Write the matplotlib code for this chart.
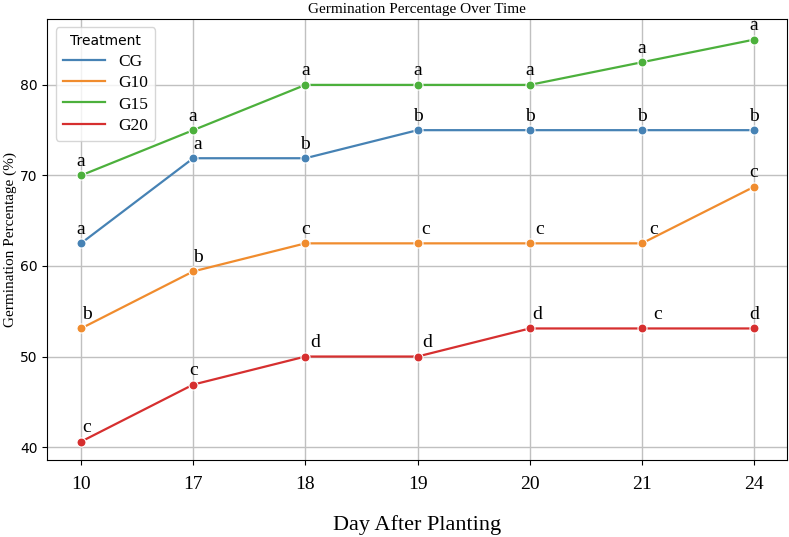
import numpy as np
import matplotlib
matplotlib.use("Agg")
import matplotlib.pyplot as plt
from matplotlib.lines import Line2D

# data
days = ["10", "17", "18", "19", "20", "21", "24"]
cg = [62.5, 71.9, 71.9, 75.0, 75.0, 75.0, 75.0]
g10 = [53.1, 59.4, 62.5, 62.5, 62.5, 62.5, 68.75]
g15 = [70.0, 75.0, 80.0, 80.0, 80.0, 82.5, 85.0]
g20 = [40.6, 46.9, 50.0, 50.0, 53.1, 53.1, 53.1]

cg_letters = ["a", "a", "b", "b", "b", "b", "b"]
g10_letters = ["b", "b", "c", "c", "c", "c", "c"]
g15_letters = ["a", "a", "a", "a", "a", "a", "a"]
g20_letters = ["c", "c", "d", "d", "d", "c", "d"]

series = [
    ("CG", cg, cg_letters, "#4682b4"),
    ("G10", g10, g10_letters, "#f08c2e"),
    ("G15", g15, g15_letters, "#4cb03c"),
    ("G20", g20, g20_letters, "#d62f2f"),
]

# small horizontal nudges of some letters (in x units)
nudge = {
    ("G10", 0): 0.05, ("G10", 1): 0.04, ("G10", 3): 0.07, ("G10", 4): 0.09, ("G10", 5): 0.1,
    ("G20", 0): 0.05, ("G20", 2): 0.09, ("G20", 3): 0.09, ("G20", 4): 0.07, ("G20", 5): 0.14,
    ("CG", 1): 0.04,
}

serif = "Liberation Serif"

fig, ax = plt.subplots(figsize=(7.89, 5.37), dpi=100)
fig.subplots_adjust(left=0.06, right=0.997, top=0.965, bottom=0.143)

x = np.arange(len(days))
handles = []
for name, vals, letters, col in series:
    ax.plot(x, vals, color=col, lw=1.6, marker="o", markersize=6.5,
            markeredgecolor="white", markeredgewidth=0.8, zorder=3)
    handles.append(Line2D([], [], color=col, lw=1.6, label=name))
    for i, (v, t) in enumerate(zip(vals, letters)):
        ax.text(x[i] + nudge.get((name, i), 0), v + 0.6, t, ha="center", va="bottom",
                fontsize=14, family=serif, zorder=4)

ax.set_xticks(x)
ax.set_xticklabels(days, family=serif, fontsize=14)
ax.tick_params(axis="x", pad=8)
ax.set_yticks([40, 50, 60, 70, 80])
ax.tick_params(axis="y", labelsize=10)
ax.set_xlim(-0.3, 6.29)
ax.set_ylim(38.55, 87.3)
ax.grid(True, color="#c0c0c0", lw=1.0)
ax.set_axisbelow(True)

ax.set_title("Germination Percentage Over Time", family=serif, fontsize=11, pad=4)
ax.set_ylabel("Germination Percentage (%)", family=serif, fontsize=11, labelpad=2)
ax.set_xlabel("Day After Planting", family=serif, fontsize=16, labelpad=16)

leg = ax.legend(handles=handles, title="Treatment", loc="upper left",
                prop={"family": serif, "size": 12.5}, title_fontsize=10,
                handlelength=2.4, labelspacing=0.3, borderaxespad=0.5)
leg.get_frame().set_edgecolor("#cccccc")

fig.savefig("out.png", dpi=100)
